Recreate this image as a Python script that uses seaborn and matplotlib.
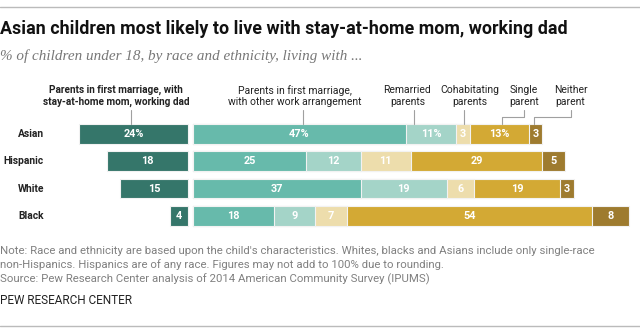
import matplotlib
matplotlib.use("Agg")
import matplotlib.pyplot as plt
import seaborn as sns
import pandas as pd
import numpy as np
from matplotlib.lines import Line2D

# Share of children under 18 (%) by living arrangement
races = ["Asian", "Hispanic", "White", "Black"]
stay_home = [24, 18, 15, 4]
other_work = [47, 25, 37, 18]
remarried = [11, 12, 19, 9]
cohabiting = [3, 11, 6, 7]
single = [13, 29, 19, 54]
neither = [3, 5, 3, 8]

headers = [
    "Parents in first marriage, with\nstay-at-home mom, working dad",
    "Parents in first marriage,\nwith other work arrangement",
    "Remarried\nparents",
    "Cohabitating\nparents",
    "Single\nparent",
    "Neither\nparent",
]

dark = "#35766A"
right_colors = ["#67BAAB", "#A4D4C8", "#EDDDAC", "#D3A934", "#9E7B2F"]

sns.set_theme(style="white")
plt.rcParams["font.family"] = ["Roboto", "DejaVu Sans"]

W, H = 640, 331
fig = plt.figure(figsize=(W / 100, H / 100), dpi=100)

PX = 4.54      # pixels per percentage point
ROW = 27.33    # pixels between rows
Y0 = 134       # pixel centre of the first row
BAR_H = 0.72


def fx(px):
    return px / W


def fy(py):
    return 1 - py / H


def frame(ax, zero_px):
    ax.set_xlim(-zero_px / PX, (W - zero_px) / PX)
    ax.set_ylim(3 + (H - (Y0 + 3 * ROW)) / ROW, -Y0 / ROW)
    ax.axis("off")
    ax.patch.set_alpha(0)


df = pd.DataFrame({"race": races})

# Stacked segments to the right of the divider
axr = fig.add_axes([0, 0, 1, 1])
right_series = [other_work, remarried, cohabiting, single, neither]
cum = np.cumsum(np.array(right_series), axis=0)
for i in reversed(range(len(right_series))):
    df["cum"] = cum[i]
    sns.barplot(data=df, x="cum", y="race", order=races, orient="h",
                color=right_colors[i], saturation=1, width=BAR_H,
                edgecolor="#f2f2f2", linewidth=0.8, errorbar=None, ax=axr)
frame(axr, 192.7)

for i, series in enumerate(right_series):
    for r, v in enumerate(series):
        label = f"{v}%" if (r == 0 and v >= 5) else str(v)
        axr.text(cum[i][r] - v / 2, r, label, ha="center", va="center",
                 color="white", fontsize=7.8, fontweight="bold")

# Stay-at-home mom segment to the left of the divider
axl = fig.add_axes([0, 0, 1, 1])
df["neg"] = [-v for v in stay_home]
sns.barplot(data=df, x="neg", y="race", order=races, orient="h",
            color=dark, saturation=1, width=BAR_H,
            edgecolor="#f2f2f2", linewidth=0.8, errorbar=None, ax=axl)
frame(axl, 188.3)
for r, v in enumerate(stay_home):
    label = f"{v}%" if r == 0 else str(v)
    axl.text(-v / 2, r, label, ha="center", va="center",
             color="white", fontsize=7.8, fontweight="bold")

# Row labels
for r, name in enumerate(races):
    fig.text(fx(44), fy(Y0 + r * ROW), name, ha="right", va="center",
             fontsize=7.4, fontweight="bold", color="#222222")

# Column headers with leader lines
header_x = [116, 295, 407.5, 469.5, 524, 570.5]
for k, (hx, txt) in enumerate(zip(header_x, headers)):
    fig.text(fx(hx), fy(96), txt, ha="center", va="center", ma="center",
             fontsize=7.2 if k == 0 else 7.5, linespacing=1.15, color="#222222",
             fontweight="bold" if k == 0 else "normal")

line_kw = dict(color="#a0a0a0", lw=0.8, transform=fig.transFigure)
for lx in [131, 303.3, 414, 464.3]:
    fig.add_artist(Line2D([fx(lx), fx(lx)], [fy(110), fy(124)], **line_kw))
fig.add_artist(Line2D([fx(524.3), fx(524.3), fx(501.7), fx(501.7)],
                      [fy(110), fy(116.7), fy(116.7), fy(124)], **line_kw))
fig.add_artist(Line2D([fx(571), fx(571), fx(534.3), fx(534.3)],
                      [fy(110), fy(116.7), fy(116.7), fy(124)], **line_kw))

# Title and subtitle
fig.text(fx(0), fy(34), "Asian children most likely to live with stay-at-home mom, working dad",
         ha="left", va="baseline", fontsize=12.9, fontweight="bold", color="#111111")
fig.text(fx(0), fy(60), "% of children under 18, by race and ethnicity, living with ...",
         ha="left", va="baseline", fontsize=10.9, style="italic", color="#777777",
         family=["Liberation Serif", "DejaVu Serif"])

# Notes
notes = ("Note: Race and ethnicity are based upon the child's characteristics. Whites, blacks and Asians include only single-race\n"
         "non-Hispanics. Hispanics are of any race. Figures may not add to 100% due to rounding.\n"
         "Source: Pew Research Center analysis of 2014 American Community Survey (IPUMS)")
fig.text(fx(0), fy(246), notes, ha="left", va="top", fontsize=8.2,
         linespacing=1.38, color="#808080")
fig.text(fx(0), fy(304), "PEW RESEARCH CENTER", ha="left", va="baseline",
         fontsize=8.5, color="#222222")

# Top and bottom rules
for ry in [7.3, 326]:
    fig.add_artist(Line2D([0, 1], [fy(ry), fy(ry)], color="#bbbbbb", lw=1,
                          transform=fig.transFigure))

fig.savefig("out.png", dpi=100)
